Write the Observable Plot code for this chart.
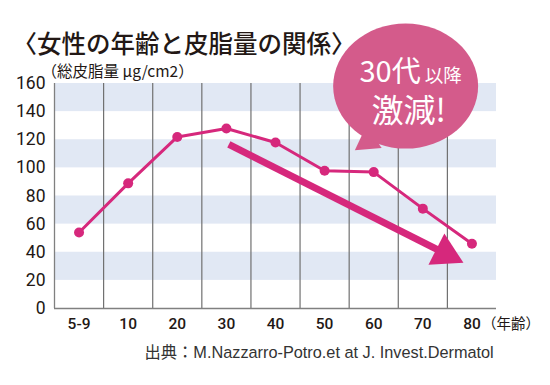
<!DOCTYPE html>
<html><head><meta charset="utf-8">
<script src="https://cdn.jsdelivr.net/npm/d3@7"></script>
<script src="https://cdn.jsdelivr.net/npm/@observablehq/plot@0.6"></script>
<style>body{margin:0;background:#fff}</style>
</head><body><div id="chart"></div>
<script>
// ---- data ----
const ages = ["5-9", "10", "20", "30", "40", "50", "60", "70", "80"];
const sebum = [54, 89, 122, 128, 118, 98, 97, 71, 46];
const yTicks = [0, 20, 40, 60, 80, 100, 120, 140, 160];
const bandRanges = [[20, 40], [60, 80], [100, 120], [140, 160]];
const gridBounds = [0.5, 1.5, 2.5, 3.5, 4.5, 5.5, 6.5, 7.5];
const trendShaft = [{x1: 3.05, y1: 116.7, x2: 7.46, y2: 39}];
const trendHead = [{x: 7.46, y: 39}];
const bubbleAt = [{x: 6.65, y: 158.1}];
const tailAt = [{x: 5.875, y: 118.8}];
const titleText = "〈女性の年齢と皮脂量の関係〉";
const yLabelText = "（総皮脂量 μg/cm2）";
const xUnitText = "（年齢）";
const sourceText = "出典：M.Nazzarro-Potro.et at J. Invest.Dermatol";
const callout1a = "30代", callout1b = "以降", callout2 = "激減!";

const pink = "#d6287c";
const bubbleFill = "#d45b8b";
const ink = "#231815";
const cjk = "'Noto Sans CJK JP', sans-serif";

const data = ages.map((a, i) => ({i, age: a, v: sebum[i]}));

const chart = Plot.plot({
  width: 550, height: 385,
  marginLeft: 54, marginRight: 54, marginTop: 83, marginBottom: 77,
  x: {type: "linear", domain: [-0.5, 8.5], axis: null},
  y: {domain: [0, 160], axis: null},
  style: {fontFamily: "Roboto, sans-serif", background: "white", overflow: "visible"},
  marks: [
    Plot.rect(bandRanges, {x1: -0.5, x2: 8.5, y1: d => d[0], y2: d => d[1], fill: "#e1e8f4"}),
    Plot.ruleX(gridBounds, {x: d => d, y1: 0, y2: 160, stroke: "#707070", strokeWidth: 1.2}),
    Plot.ruleX([-0.5], {x: d => d, y1: 0, y2: 160, stroke: "#808080", strokeWidth: 1.3}),
    Plot.ruleY([0], {y: d => d, x1: -0.5, x2: 8.5, stroke: "#808080", strokeWidth: 1.3}),
    // y tick labels
    Plot.text(yTicks, {x: -0.5, y: d => d, text: d => String(d), textAnchor: "end", dx: -9,
      fontSize: 17.5, fill: ink}),
    // x tick labels
    Plot.text(data, {x: "i", y: 0, text: "age", dy: 16, fontSize: 15.5, fontWeight: 500, fill: ink}),
    Plot.text([xUnitText], {x: 8, y: 0, text: d => d, textAnchor: "start", dx: 10, dy: 16,
      fontSize: 14.5, fontFamily: cjk, fill: ink}),
    // data line
    Plot.line(data, {x: "i", y: "v", stroke: pink, strokeWidth: 3}),
    Plot.dot(data, {x: "i", y: "v", r: 5, fill: pink}),
    // trend arrow
    Plot.link(trendShaft, {x1: "x1", y1: "y1", x2: "x2", y2: "y2", stroke: pink, strokeWidth: 7}),
    Plot.dot(trendHead, {x: "x", y: "y", symbol: "triangle", r: 13, rotate: 117, fill: pink}),
    // callout bubble
    Plot.dot(tailAt, {x: "x", y: "y", symbol: "triangle", r: 10, rotate: 235, fill: bubbleFill}),
    Plot.dot(bubbleAt, {x: "x", y: "y", r: 72.5, fill: bubbleFill}),
    Plot.text(bubbleAt, {x: "x", y: "y", text: () => callout1a, textAnchor: "end", lineAnchor: "bottom",
      dx: 15, dy: -4, fontSize: 29, fontFamily: cjk, fill: "white"}),
    Plot.text(bubbleAt, {x: "x", y: "y", text: () => callout1b, textAnchor: "start", lineAnchor: "bottom",
      dx: 19, dy: -4, fontSize: 18.5, fontFamily: cjk, fill: "white"}),
    Plot.text(bubbleAt, {x: "x", y: "y", text: () => callout2, textAnchor: "middle", lineAnchor: "bottom",
      dx: 3, dy: 36, fontSize: 32, fontFamily: cjk, fill: "white"}),
    // titles and source
    Plot.text([titleText], {frameAnchor: "top-left", text: d => d, textAnchor: "start", lineAnchor: "bottom",
      dx: -42, dy: -31, fontSize: 24.5, fontWeight: 500, fontFamily: cjk, fill: ink}),
    Plot.text([yLabelText], {frameAnchor: "top-left", text: d => d, textAnchor: "start", lineAnchor: "bottom",
      dx: -13, dy: -6.5, fontSize: 15.5, fontFamily: cjk, fill: ink}),
    Plot.text([sourceText], {frameAnchor: "bottom-left", text: d => d, textAnchor: "start", lineAnchor: "bottom",
      dx: 90, dy: 49, fontSize: 16.3, fontFamily: "'Liberation Sans', 'Noto Sans CJK JP', sans-serif", fill: "#333"})
  ]
});

// squash the bubble circle into an ellipse around its centre
const sy = chart.scale("y").apply(bubbleAt[0].y);
d3.select(chart).selectAll("circle")
  .filter(function() { return +this.getAttribute("r") > 50; })
  .each(function() {
    const g = d3.select(this.parentNode);
    const prev = g.attr("transform") || "";
    g.attr("transform", `translate(0,${sy}) scale(1,${62.5 / 72.5}) translate(0,${-sy}) ${prev}`);
  });

document.getElementById("chart").appendChild(chart);
</script>
</body></html>
